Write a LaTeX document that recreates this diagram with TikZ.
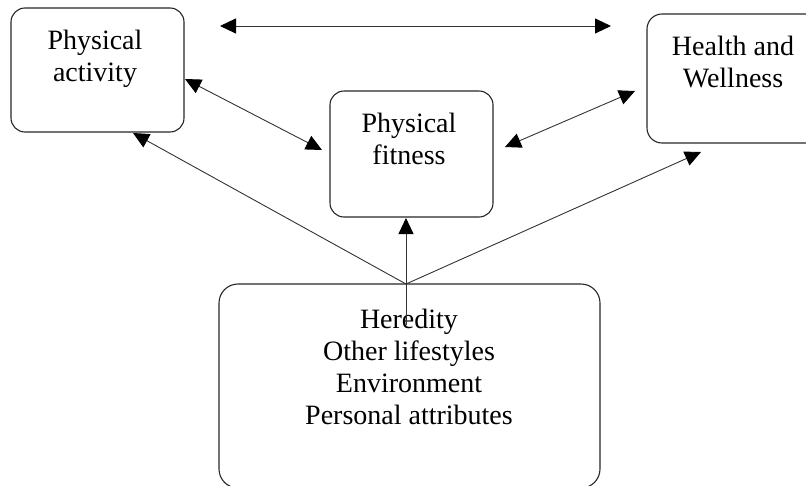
\documentclass[tikz,border=0pt]{standalone}
\usepackage{fontspec}
\setmainfont{Liberation Serif}
\usetikzlibrary{arrows.meta}
\begin{document}
\begin{tikzpicture}[x=1pt,y=-1pt,
  box/.style={draw=black!85, line width=1.1pt, rounded corners=#1, inner sep=0pt, fill=none},
  box/.default=14pt,
  lbl/.style={anchor=north, inner sep=0pt, align=center, font=\fontsize{28}{32}\selectfont},
  conn/.style={draw=black!80, line width=0.9pt},
  headtip/.tip={Triangle[length=16pt,width=15pt,fill=black,color=black]},
  onehead/.style={-headtip},
  twohead/.style={headtip-headtip}]
\useasboundingbox (0,0) rectangle (806,485);
\clip (0,0) rectangle (806,485);
% boxes
\node[box, minimum width=173pt, minimum height=124pt] (pa) at (97.5,70) {};
\node[box, minimum width=163pt, minimum height=126pt] (pf) at (411.5,154) {};
\node[box=15pt, minimum width=173pt, minimum height=129pt] (hw) at (733.5,78.5) {};
\node[box=19pt, minimum width=381pt, minimum height=204pt] (bt) at (409.5,386) {};
% texts
\node[lbl] (pat) at (95,30) {Physical\\activity};
\node[lbl] (pft) at (409,113) {Physical\\fitness};
\node[lbl] (hwt) at (733,36) {Health and\\Wellness};
\node[lbl] (btt) at (409,309) {Heredity\\Other lifestyles\\Environment\\Personal attributes};
% connector end points
\coordinate (ta1) at (220,26);
\coordinate (ta2) at (611,26);
\coordinate (papf1) at (185,79);
\coordinate (papf2) at (322,150);
\coordinate (pfhw1) at (505,147);
\coordinate (pfhw2) at (635,91);
\coordinate (src) at (406,284);
\coordinate (srcv) at (406,325);
\coordinate (topa) at (133,133);
\coordinate (topf) at (406,218);
\coordinate (tohw) at (701,152);
% connectors
\draw[conn, twohead] (ta1) -- (ta2);
\draw[conn, twohead] (papf1) -- (papf2);
\draw[conn, twohead] (pfhw1) -- (pfhw2);
\draw[conn, onehead] (src) -- (topa);
\draw[conn, onehead] (srcv) -- (topf);
\draw[conn, onehead] (src) -- (tohw);
\end{tikzpicture}
\end{document}
